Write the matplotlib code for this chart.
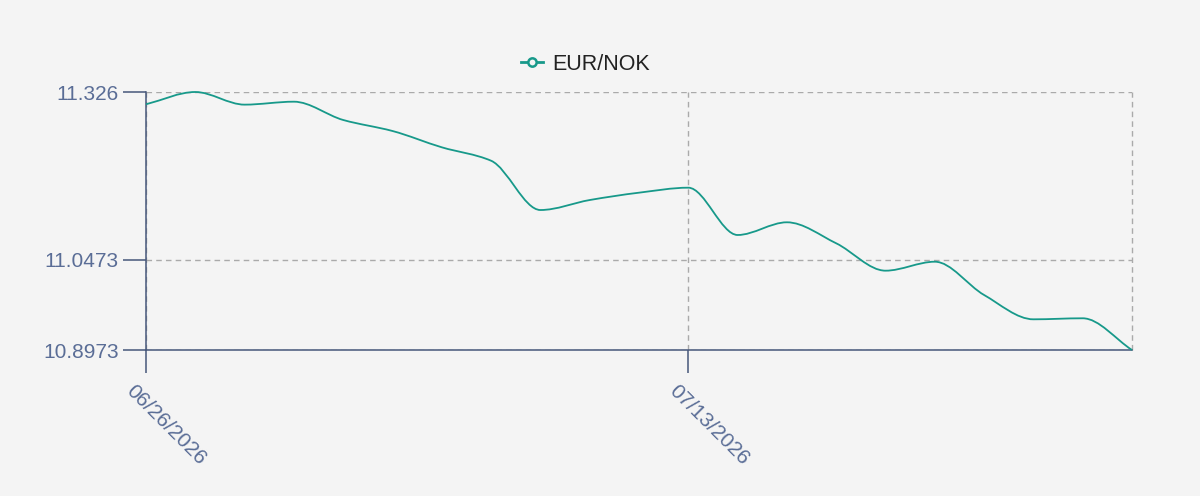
import numpy as np
import matplotlib
matplotlib.use("Agg")
import matplotlib.pyplot as plt
from matplotlib.path import Path
from matplotlib.patches import PathPatch
from matplotlib.lines import Line2D
from matplotlib.transforms import ScaledTranslation

dates = ["06/26/2026", "06/29/2026", "06/30/2026", "07/01/2026", "07/02/2026",
         "07/03/2026", "07/06/2026", "07/07/2026", "07/08/2026", "07/09/2026",
         "07/10/2026", "07/13/2026", "07/14/2026", "07/15/2026", "07/16/2026",
         "07/17/2026", "07/20/2026", "07/21/2026", "07/22/2026", "07/23/2026",
         "07/24/2026"]
eur_nok = [11.3056, 11.3260, 11.3050, 11.3099, 11.2795, 11.2612, 11.2341,
           11.2118, 11.1299, 11.1465, 11.1587, 11.1670, 11.0884, 11.1095,
           11.0746, 11.0291, 11.0440, 10.9887, 10.9483, 10.9500, 10.8973]
ytick_vals = [10.8973, 11.0473, 11.326]
ytick_labels = ["10.8973", "11.0473", "11.326"]
xtick_idx = [0, 11]
series_name = "EUR/NOK"

plt.rcParams['font.family'] = ['Liberation Sans', 'DejaVu Sans']

BG = "#f4f4f4"
LINE = "#17998a"
AXC = "#46577a"
LBL = "#5a6d96"
GRID = "#aaaaaa"

fig = plt.figure(figsize=(12, 4.96), dpi=100, facecolor=BG)
ax = fig.add_axes([146/1200, 1-350/496, (1132-146)/1200, (350-92)/496])
ax.set_facecolor(BG)

x = np.arange(len(eur_nok), dtype=float)
y = np.asarray(eur_nok, dtype=float)

# monotone cubic (Fritsch-Carlson) tangents for smooth rendering
d = np.diff(y) / np.diff(x)
m = np.zeros_like(y)
m[0] = d[0]
m[-1] = d[-1]
for i in range(1, len(y) - 1):
    if d[i-1] * d[i] <= 0:
        m[i] = 0.0
    else:
        m[i] = 2.0 / (1.0 / d[i-1] + 1.0 / d[i])
verts = [(x[0], y[0])]
codes = [Path.MOVETO]
for i in range(len(y) - 1):
    h = x[i+1] - x[i]
    verts += [(x[i] + h/3, y[i] + m[i]*h/3),
              (x[i+1] - h/3, y[i+1] - m[i+1]*h/3),
              (x[i+1], y[i+1])]
    codes += [Path.CURVE4] * 3
ax.add_patch(PathPatch(Path(verts, codes), facecolor='none', edgecolor=LINE,
                       lw=1.3, zorder=3, clip_on=False))

ax.set_xlim(x[0], x[-1])
ax.set_ylim(ytick_vals[0], ytick_vals[-1])

ax.set_yticks(ytick_vals)
ax.set_yticklabels(ytick_labels)
ax.set_xticks(xtick_idx)
ax.set_xticklabels([dates[i] for i in xtick_idx], rotation=-45,
                   ha='left', va='top', rotation_mode='anchor')

ax.tick_params(axis='both', length=16.5, width=1.1, color=AXC,
               labelcolor=LBL, labelsize=15)
ax.tick_params(axis='y', pad=3)
ax.tick_params(axis='x', pad=4)

off = ScaledTranslation(-10/100, -3/100, fig.dpi_scale_trans)
for lab in ax.get_xticklabels():
    lab.set_transform(lab.get_transform() + off)

for s in ['top', 'right']:
    ax.spines[s].set_visible(False)
for s in ['left', 'bottom']:
    ax.spines[s].set_color(AXC)
    ax.spines[s].set_linewidth(1.1)

ax.grid(True, color=GRID, linestyle=(0, (4, 3)), linewidth=1.0, zorder=1)
ax.axvline(x[-1], color=GRID, linestyle=(0, (4, 3)), linewidth=1.0, zorder=1,
           clip_on=False)
ax.set_axisbelow(True)

handle = Line2D([], [], color=LINE, lw=2, marker='o', markersize=6,
                markerfacecolor=BG, markeredgecolor=LINE, markeredgewidth=1.8)
fig.legend([handle], [series_name], loc='center', bbox_to_anchor=(585.5/1200, 1-64/496),
           frameon=False, fontsize=15.5, handlelength=1.0, handletextpad=0.45,
           labelcolor='#222222')

fig.savefig("out.png", dpi=100, facecolor=BG)
